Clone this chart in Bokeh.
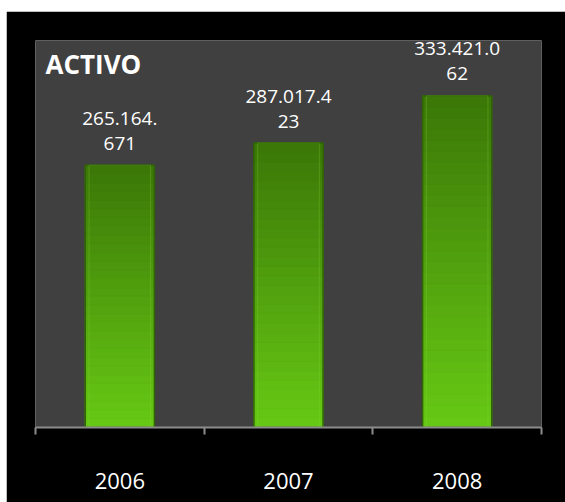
import numpy as np
from bokeh.plotting import figure
from bokeh.layouts import column, row
from bokeh.models import (Range1d, FixedTicker, Label, LabelSet,
                          ColumnDataSource, Spacer)
from bokeh.core.properties import value
from bokeh.embed import file_html
from bokeh.resources import INLINE

# ---- data ----
years = ["2006", "2007", "2008"]
activo = [265164671, 287017423, 333421062]
label_line1 = ["265.164.", "287.017.4", "333.421.0"]
label_line2 = ["671", "23", "62"]
title_text = "ACTIVO"

Y0, Y1 = 7e6, 388e6
xs = [i + 0.5 for i in range(len(years))]
BAR_W = 0.41

p = figure(width=559, height=491, output_backend="svg", toolbar_location=None,
           x_range=Range1d(0, len(years)), y_range=Range1d(Y0, Y1),
           min_border_left=29, min_border_right=24, min_border_top=29,
           min_border_bottom=75)
p.background_fill_color = "#404040"
p.border_fill_color = "black"
p.outline_line_color = None
p.grid.visible = False
p.yaxis.visible = False

# ---- gradient bars ----
N = 30
top_col = np.array([60, 120, 8])
bot_col = np.array([102, 200, 20])
seg_x, seg_b, seg_t, seg_c = [], [], [], []
for x, v in zip(xs, activo):
    for k in range(N):
        b = Y0 + (v - Y0) * k / N
        t = Y0 + (v - Y0) * (k + 1) / N
        f = k / (N - 1)
        c = bot_col * (1 - f) + top_col * f
        seg_x.append(x); seg_b.append(b); seg_t.append(t)
        seg_c.append("#%02x%02x%02x" % tuple(int(round(q)) for q in c))
p.vbar(x=seg_x, bottom=seg_b, top=seg_t, width=BAR_W, fill_color=seg_c,
       line_color=seg_c, line_width=1)
# bevel outlines
p.vbar(x=xs, bottom=Y0, top=activo, width=BAR_W, fill_color=None,
       line_color="#2e6405", line_width=1.5)
p.vbar(x=xs, bottom=Y0, top=activo, width=BAR_W - 0.045, fill_color=None,
       line_color="#8fe040", line_alpha=0.25, line_width=1)

# ---- value labels (two lines, as in the reference) ----
src = ColumnDataSource(dict(x=xs, y=activo, l1=label_line1, l2=label_line2))
common = dict(x="x", y="y", source=src, text_align="center",
              text_baseline="middle", text_color="white",
              text_font=value("Open Sans"), text_font_size="19px")
p.add_layout(LabelSet(text="l2", y_offset=22, **common))
p.add_layout(LabelSet(text="l1", y_offset=47, **common))

# ---- title ----
p.add_layout(Label(x=10, y=364, x_units="screen", y_units="screen",
                   text=title_text, text_font="Open Sans",
                   text_font_style="bold", text_font_size="26px",
                   text_color="white", text_baseline="alphabetic"))

# ---- x axis: boundary ticks + centered year labels ----
ax = p.xaxis[0]
ax.ticker = FixedTicker(ticks=xs, minor_ticks=list(range(len(years) + 1)))
ax.major_label_overrides = {x: y for x, y in zip(xs, years)}
ax.axis_line_color = "#8c8c8c"
ax.axis_line_width = 2
ax.major_tick_line_color = None
ax.major_tick_in = 0
ax.major_tick_out = 0
ax.minor_tick_line_color = "#8c8c8c"
ax.minor_tick_line_width = 2
ax.minor_tick_in = 0
ax.minor_tick_out = 7
ax.major_label_text_color = "white"
ax.major_label_text_font = "Open Sans"
ax.major_label_text_font_size = "22px"
ax.major_label_standoff = 38

layout = column(Spacer(height=11), row(Spacer(width=6), p), spacing=0)

open("out.html", "w").write(file_html(layout, INLINE))
